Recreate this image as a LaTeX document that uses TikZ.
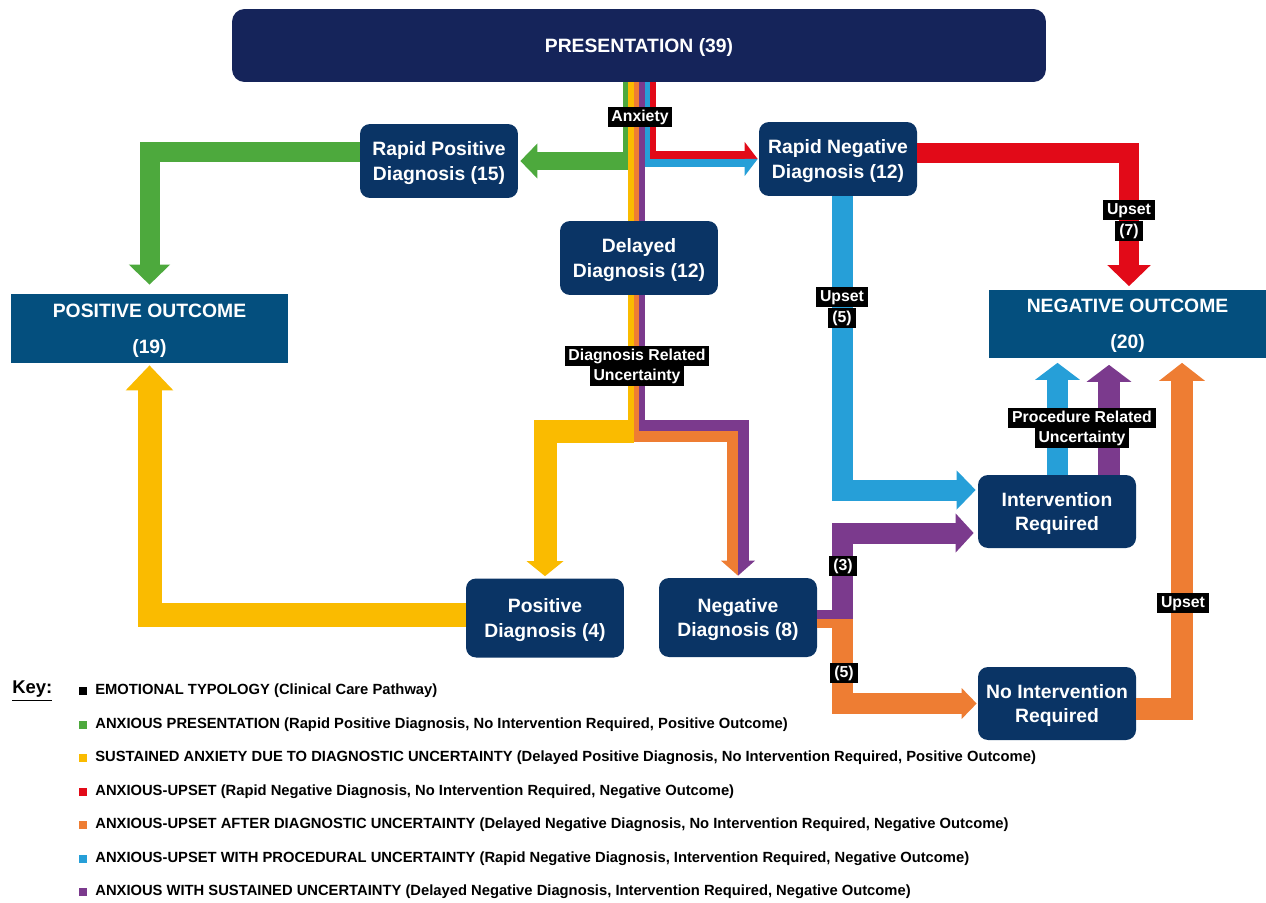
\documentclass[tikz,border=0pt]{standalone}
\usepackage{fontspec}
\setmainfont{Liberation Sans}
\usetikzlibrary{calc,arrows.meta}

\definecolor{presblue}{HTML}{15245A}
\definecolor{boxblue}{HTML}{0A3465}
\definecolor{outblue}{HTML}{044F7E}
\definecolor{cgreen}{HTML}{4DA93D}
\definecolor{cyellow}{HTML}{FABB00}
\definecolor{corange}{HTML}{EE7D33}
\definecolor{cred}{HTML}{E20A18}
\definecolor{cblue}{HTML}{269FD8}
\definecolor{cpurple}{HTML}{7B3A8D}

\begin{document}
\begin{tikzpicture}[x=0.02cm,y=-0.02cm]
\useasboundingbox (0,0) rectangle (1266,902);

\tikzstyle{stage}=[fill=boxblue,text=white,rounded corners=0.2cm,align=center,inner sep=0pt,text depth=0pt,minimum width=3.16cm,minimum height=1.48cm,font=\bfseries\fontsize{11}{14}\selectfont]
\tikzstyle{outcome}=[fill=outblue,text=white,align=center,inner sep=0pt,text depth=-2.9pt,minimum width=5.56cm,minimum height=1.38cm,font=\bfseries\fontsize{11}{20.5}\selectfont]
\tikzstyle{stripe}=[line width=0.11cm]
\tikzstyle{band}=[line join=miter]
\tikzstyle{tag}=[fill=black,text=white,inner xsep=2.2pt,inner ysep=1pt,text height=7pt,text depth=2pt,font=\bfseries\fontsize{9}{10}\selectfont]

   %boxes
    \node (pres) [stage,fill=presblue,minimum width=16.28cm,minimum height=1.46cm,rounded corners=0.25cm] at (639,45.5) {PRESENTATION (39)};
    \node (rpd) [stage] at (439,161) {Rapid Positive\\Diagnosis (15)};
    \node (rnd) [stage] at (838,159) {Rapid Negative\\Diagnosis (12)};
    \node (dd) [stage] at (639,258) {Delayed\\Diagnosis (12)};
    \node (po) [outcome] at (149.5,328.5) {POSITIVE OUTCOME\\(19)};
    \node (no) [outcome] at (1127.5,324) {NEGATIVE OUTCOME\\(20)};
    \node (pdx) [stage,minimum height=1.58cm] at (545,618) {Positive\\Diagnosis (4)};
    \node (nd) [stage,minimum height=1.58cm] at (738,617.5) {Negative\\Diagnosis (8)};
    \node (ir) [stage,minimum height=1.46cm] at (1057,511.5) {Intervention\\Required};
    \node (nir) [stage,minimum height=1.46cm] at ($(ir)+(0,192)$) {No Intervention\\Required};

   %stripes out of presentation
    \foreach \col/\dx/\len in {cgreen/-13.75/88, cblue/8.25/85, cred/13.75/77}
      \draw[stripe,draw=\col] ($(pres.south)+(\dx,0)$) -- ++(0,\len);

   %rapid positive
    \draw[band,cgreen,line width=0.36cm,-{Triangle[width=0.68cm,length=0.34cm]}] ($(rpd.east -| pres.south)+(-11,0)$) -- ($(rpd.east)+(2,0)$);
    \draw[band,cgreen,line width=0.4cm,-{Triangle[width=0.8cm,length=0.4cm]}] ($(rpd.west)+(0,-9)$) -| ($(po.north)+(0,-9)$);

   %rapid negative
    \draw[band,cred,line width=0.16cm] ($(rnd.west -| pres.south)+(11,-4)$) -- ($(rnd.west)+(-14,-4)$);
    \draw[band,cblue,line width=0.16cm] ($(rnd.west -| pres.south)+(5.5,4)$) -- ($(rnd.west)+(-14,4)$);
    \fill[cred] ($(rnd.west)+(-14,-17)$) -- ($(rnd.west)+(-14,0)$) -- ($(rnd.west)+(-1,0)$) -- cycle;
    \fill[cblue] ($(rnd.west)+(-14,0)$) -- ($(rnd.west)+(-14,17)$) -- ($(rnd.west)+(-1,0)$) -- cycle;
    \draw[band,cred,line width=0.4cm,-{Triangle[width=0.84cm,length=0.42cm]}] ($(rnd.east)+(0,-6)$) -| ($(no.north)+(1.5,-3)$);
    \draw[band,cblue,line width=0.42cm,-{Triangle[width=0.76cm,length=0.38cm]}] ($(rnd.south)+(4.5,0)$) |- ($(ir.west)+(-2,-21.5)$);

   %delayed
    \foreach \col/\dx in {cyellow/-8.25, corange/-2.75, cpurple/2.75}
      \draw[stripe,draw=\col] ($(pres.south)+(\dx,0)$) -- ($(dd.north)+(\dx,0)$);
    \foreach \col/\dx/\len in {cyellow/-8.25/148, corange/-2.75/147, cpurple/2.75/136}
      \draw[stripe,draw=\col] ($(dd.south)+(\dx,0)$) -- ++(0,\len);

    \draw[band,cpurple,line width=0.22cm] ($(dd.south)+(0,130.5)$) -| ($(nd.north)+(5.5,-17)$);
    \draw[band,corange,line width=0.22cm] ($(dd.south)+(-5,141.5)$) -| ($(nd.north)+(-5.5,-17)$);
    \fill[corange] ($(nd.north)+(-17,-17)$) -- ($(nd.north)+(0,-17)$) -- ($(nd.north)+(0,-2)$) -- cycle;
    \fill[cpurple] ($(nd.north)+(0,-17)$) -- ($(nd.north)+(17,-17)$) -- ($(nd.north)+(0,-2)$) -- cycle;
    \draw[band,cyellow,line width=0.46cm,-{Triangle[width=0.72cm,length=0.3cm]}] ($(dd.south)+(-5,136.5)$) -| ($(pdx.north)+(0,-2)$);
    \draw[band,cyellow,line width=0.48cm,-{Triangle[width=0.92cm,length=0.5cm]}] ($(pdx.west)+(0,-3)$) -| ($(po.south)+(0,2)$);

   %negative diagnosis
    \draw[cpurple,line width=0.18cm] ($(nd.east)+(0,-3)$) -- ++(36,0);
    \draw[corange,line width=0.18cm] ($(nd.east)+(0,6)$) -- ++(36,0);
    \draw[band,cpurple,line width=0.42cm,-{Triangle[width=0.76cm,length=0.36cm]}] ($(nd.east)+(25.5,1.5)$) |- ($(ir.west)+(-4,21.5)$);
    \draw[band,corange,line width=0.42cm,-{Triangle[width=0.6cm,length=0.3cm]}] ($(nd.east)+(25.5,1.5)$) |- ($(nir.west)+(-1,0)$);

   %into negative outcome
    \draw[band,corange,line width=0.44cm,-{Triangle[width=0.9cm,length=0.36cm]}] ($(nir.east)+(0,5.5)$) -| ($(no.south)+(54.5,4)$);
    \draw[band,cblue,line width=0.42cm,-{Triangle[width=0.88cm,length=0.34cm]}] ($(ir.north)+(0.5,0)$) -- ($(ir.north |- no.south)+(0.5,4)$);
    \draw[band,cpurple,line width=0.44cm,-{Triangle[width=0.88cm,length=0.34cm]}] ($(ir.north)+(52,0)$) -- ($(ir.north |- no.south)+(52,6)$);

   %tags
    \node (anx) [tag] at (640,117) {Anxiety};
    \node (dru1) [tag] at (637,356) {Diagnosis Related};
    \node (dru2) [tag] at ($(dru1)+(0,20)$) {Uncertainty};
    \node (up5a) [tag] at (842,297) {Upset};
    \node (up5b) [tag] at ($(up5a)+(0,21)$) {(5)};
    \node (up7a) [tag] at (1129,210) {Upset};
    \node (up7b) [tag] at ($(up7a)+(0,21)$) {(7)};
    \node (pru1) [tag] at (1082,418) {Procedure Related};
    \node (pru2) [tag] at ($(pru1)+(0,20)$) {Uncertainty};
    \node (n3) [tag] at (843,566) {(3)};
    \node (n5) [tag] at (844,673) {(5)};
    \node (ups) [tag] at (1183,603) {Upset};

   %key
    \node (key) [anchor=west,inner sep=0pt,font=\bfseries\fontsize{10.5}{12}\selectfont] at (12,691) {\underline{Key:}};
    \foreach \col/\txt [count=\i] in {
      black/{EMOTIONAL TYPOLOGY (Clinical Care Pathway)},
      cgreen/{ANXIOUS PRESENTATION (Rapid Positive Diagnosis, No Intervention Required, Positive Outcome)},
      cyellow/{SUSTAINED ANXIETY DUE TO DIAGNOSTIC UNCERTAINTY (Delayed Positive Diagnosis, No Intervention Required, Positive Outcome)},
      cred/{ANXIOUS-UPSET (Rapid Negative Diagnosis, No Intervention Required, Negative Outcome)},
      corange/{ANXIOUS-UPSET AFTER DIAGNOSTIC UNCERTAINTY (Delayed Negative Diagnosis, No Intervention Required, Negative Outcome)},
      cblue/{ANXIOUS-UPSET WITH PROCEDURAL UNCERTAINTY (Rapid Negative Diagnosis, Intervention Required, Negative Outcome)},
      cpurple/{ANXIOUS WITH SUSTAINED UNCERTAINTY (Delayed Negative Diagnosis, Intervention Required, Negative Outcome)}}
    {
      \fill[\col] (79,{691+(\i-1)*33.5-4}) rectangle ++(8,8);
      \node (key\i) [anchor=west,inner sep=0pt,font=\bfseries\fontsize{8.4}{10}\selectfont] at (95,{691+(\i-1)*33.5}) {\txt};
    }

\end{tikzpicture}
\end{document}
